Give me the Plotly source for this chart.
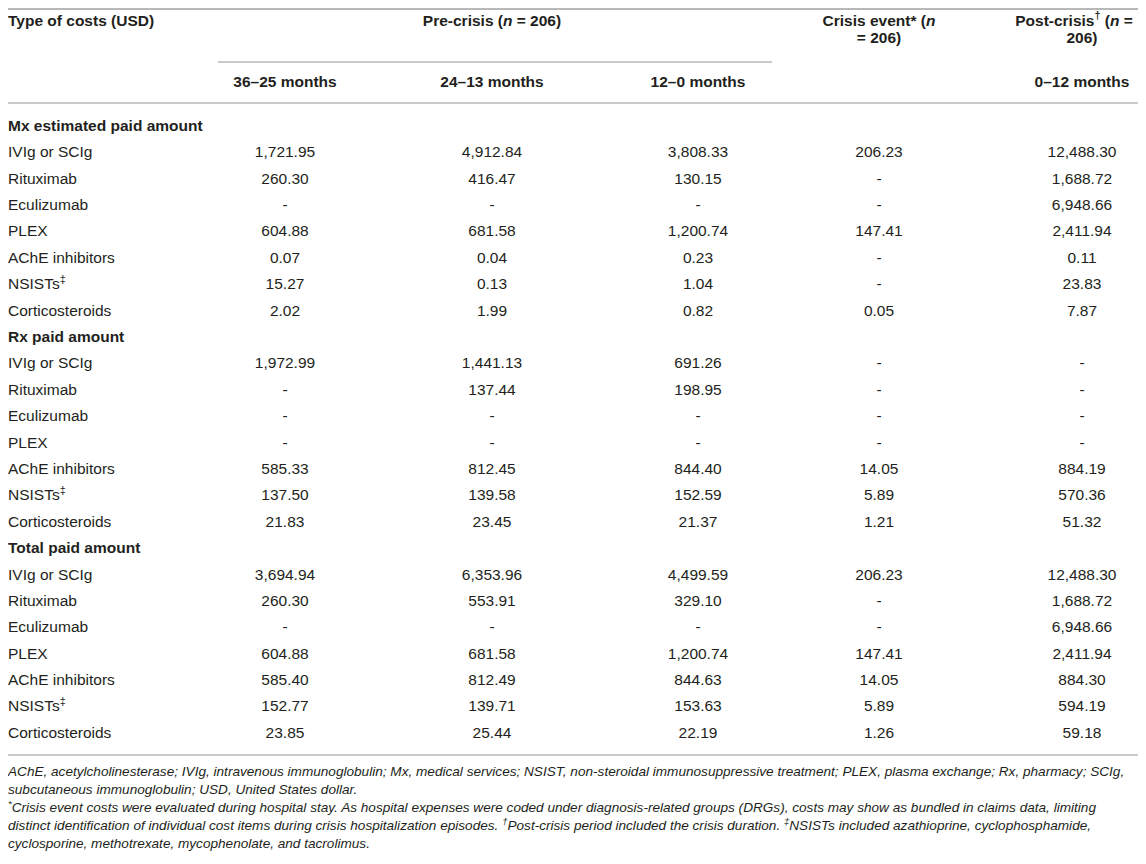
import plotly.graph_objects as go

# ---- table content ----
col_headers = ["Type of costs (USD)", "Pre-crisis (<i>n</i> = 206)",
               "Crisis event* (<i>n</i>", "= 206)",
               "Post-crisis<sup>†</sup> (<i>n</i> =", "206)"]
period_labels = ["36–25 months", "24–13 months", "12–0 months", "", "0–12 months"]

sections = ["Mx estimated paid amount", "Rx paid amount", "Total paid amount"]
items = ["IVIg or SCIg", "Rituximab", "Eculizumab", "PLEX", "AChE inhibitors",
         "NSISTs<sup>‡</sup>", "Corticosteroids"]

mx_36_25 = [1721.95, 260.30, None, 604.88, 0.07, 15.27, 2.02]
mx_24_13 = [4912.84, 416.47, None, 681.58, 0.04, 0.13, 1.99]
mx_12_0 = [3808.33, 130.15, None, 1200.74, 0.23, 1.04, 0.82]
mx_crisis = [206.23, None, None, 147.41, None, None, 0.05]
mx_post = [12488.30, 1688.72, 6948.66, 2411.94, 0.11, 23.83, 7.87]

rx_36_25 = [1972.99, None, None, None, 585.33, 137.50, 21.83]
rx_24_13 = [1441.13, 137.44, None, None, 812.45, 139.58, 23.45]
rx_12_0 = [691.26, 198.95, None, None, 844.40, 152.59, 21.37]
rx_crisis = [None, None, None, None, 14.05, 5.89, 1.21]
rx_post = [None, None, None, None, 884.19, 570.36, 51.32]

tot_36_25 = [3694.94, 260.30, None, 604.88, 585.40, 152.77, 23.85]
tot_24_13 = [6353.96, 553.91, None, 681.58, 812.49, 139.71, 25.44]
tot_12_0 = [4499.59, 329.10, None, 1200.74, 844.63, 153.63, 22.19]
tot_crisis = [206.23, None, None, 147.41, 14.05, 5.89, 1.26]
tot_post = [12488.30, 1688.72, 6948.66, 2411.94, 884.30, 594.19, 59.18]

section_values = [
    [mx_36_25, mx_24_13, mx_12_0, mx_crisis, mx_post],
    [rx_36_25, rx_24_13, rx_12_0, rx_crisis, rx_post],
    [tot_36_25, tot_24_13, tot_12_0, tot_crisis, tot_post],
]

footnotes = [
    "AChE, acetylcholinesterase; IVIg, intravenous immunoglobulin; Mx, medical services; NSIST, non-steroidal immunosuppressive treatment; PLEX, plasma exchange; Rx, pharmacy; SCIg,",
    "subcutaneous immunoglobulin; USD, United States dollar.",
    "<sup>*</sup>Crisis event costs were evaluated during hospital stay. As hospital expenses were coded under diagnosis-related groups (DRGs), costs may show as bundled in claims data, limiting",
    "distinct identification of individual cost items during crisis hospitalization episodes. <sup>†</sup>Post-crisis period included the crisis duration. <sup>‡</sup>NSISTs included azathioprine, cyclophosphamide,",
    "cyclosporine, methotrexate, mycophenolate, and tacrolimus.",
]

# ---- layout constants (screen pixels; page body has an 8px margin) ----
W, H = 1146, 864
PAD = 8
LEFT = 8
COL_X = [285, 492, 698, 879, 1082]
POST_HDR_X = 1074   # long wrapped header sits a little left so it fits
HDR_Y = [22, 39, 83]
ROW0, ROW_STEP = 127, 26.39
FOOT0, FOOT_STEP = 773, 18
TXT = "#231f20"
RULE = "#b8b8b8"
FONT = "Liberation Sans, Arial, sans-serif"
FS = 15.5
FS_FOOT = 13.6


def fmt(v):
    return "-" if v is None else f"{v:,.2f}"


def text_trace(xs, ys, texts, pos, size=FS, bold=False):
    if bold:
        texts = [f"<b>{t}</b>" for t in texts]
    return go.Scatter(x=xs, y=ys, text=texts, mode="text", textposition=pos,
                      textfont=dict(family=FONT, size=size, color=TXT),
                      hoverinfo="skip", showlegend=False, cliponaxis=False)


fig = go.Figure()

# header
fig.add_trace(text_trace([LEFT], [HDR_Y[0]], [col_headers[0]], "middle right", bold=True))
fig.add_trace(text_trace([COL_X[1], COL_X[3], COL_X[3], POST_HDR_X, COL_X[4]],
                         [HDR_Y[0], HDR_Y[0], HDR_Y[1], HDR_Y[0], HDR_Y[1]],
                         col_headers[1:], "middle center", bold=True))
px = [COL_X[c] for c, t in enumerate(period_labels) if t]
pt = [t for t in period_labels if t]
fig.add_trace(text_trace(px, [HDR_Y[2]] * len(pt), pt, "middle center", bold=True))

# body
lx, ly, lt = [], [], []
sx, sy, st = [], [], []
vx, vy, vt = [], [], []
r = 0
for s, name in enumerate(sections):
    sx.append(LEFT); sy.append(ROW0 + r * ROW_STEP); st.append(name)
    r += 1
    for i, item in enumerate(items):
        y = ROW0 + r * ROW_STEP
        lx.append(LEFT); ly.append(y); lt.append(item)
        for c, col in enumerate(section_values[s]):
            vx.append(COL_X[c]); vy.append(y); vt.append(fmt(col[i]))
        r += 1

fig.add_trace(text_trace(sx, sy, st, "middle right", bold=True))
fig.add_trace(text_trace(lx, ly, lt, "middle right"))
fig.add_trace(text_trace(vx, vy, vt, "middle center"))

# footnotes
fig.add_trace(text_trace([LEFT] * len(footnotes),
                         [FOOT0 + k * FOOT_STEP for k in range(len(footnotes))],
                         [f"<i>{t}</i>" for t in footnotes], "middle right", size=FS_FOOT))

# rules
for y0, x0, x1, wd in [(9, PAD, W, 2), (62, 218, 772, 1.5), (103, PAD, W, 1.5), (755, PAD, W, 1.5)]:
    fig.add_shape(type="line", x0=x0, x1=x1, y0=y0, y1=y0, xref="x", yref="y",
                  line=dict(color=RULE, width=wd))

fig.update_layout(
    width=W - 2 * PAD, height=H - 2 * PAD, margin=dict(l=0, r=0, t=0, b=0),
    paper_bgcolor="white", plot_bgcolor="white",
    xaxis=dict(range=[PAD, W - PAD], visible=False, fixedrange=True),
    yaxis=dict(range=[H - PAD, PAD], visible=False, fixedrange=True),
)

fig.write_html("out.html")
